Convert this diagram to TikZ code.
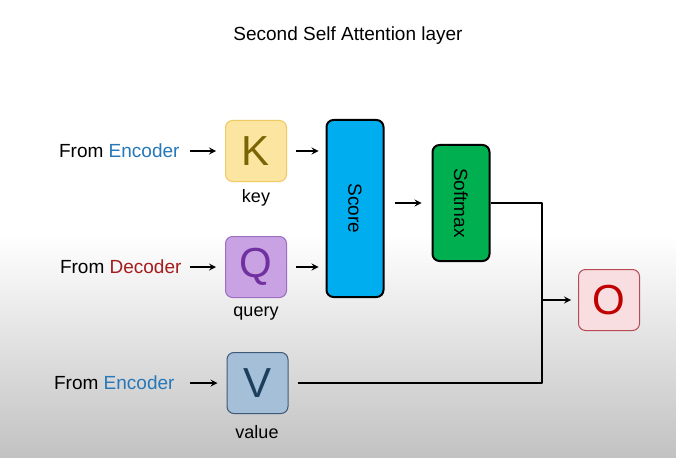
\documentclass[tikz,border=0pt]{standalone}
\usepackage{fontspec}
\setmainfont{Liberation Sans}
\definecolor{encblue}{HTML}{2678B8}
\definecolor{decred}{HTML}{A61C1C}
\definecolor{kfill}{HTML}{FCE5A0}
\definecolor{kline}{HTML}{EDCB62}
\definecolor{ktext}{HTML}{7A6405}
\definecolor{qfill}{HTML}{C8A2E2}
\definecolor{qline}{HTML}{9C6FC2}
\definecolor{qtext}{HTML}{7030A0}
\definecolor{vfill}{HTML}{A6BFD8}
\definecolor{vline}{HTML}{3E5A78}
\definecolor{vtext}{HTML}{1C3F5E}
\definecolor{ofill}{HTML}{F8DEE0}
\definecolor{oline}{HTML}{B84A55}
\definecolor{otext}{HTML}{C00000}
\definecolor{scorefill}{HTML}{00AEEF}
\definecolor{softfill}{HTML}{00B050}
\begin{document}
\begin{tikzpicture}[x=1pt,y=-1pt,line join=round,>=stealth,
	lbl/.style={font=\fontsize{19}{19}\selectfont,anchor=east},
	sub/.style={font=\fontsize{18}{18}\selectfont},
	letterbox/.style={rounded corners=7pt,line width=1pt,minimum width=61pt,minimum height=61pt,font=\fontsize{42}{42}\selectfont},
	bigbox/.style={rounded corners=7pt,draw=black,line width=2pt,minimum width=57pt,font=\fontsize{19}{19}\selectfont},
	arr/.style={->,line width=2pt}]
	% background
	\fill[white] (0,0) rectangle (676,235);
	\shade[top color=white,bottom color=black!24] (0,235) rectangle (676,457);
	\useasboundingbox (0,0) rectangle (676,457);
	\node[font=\fontsize{19}{19}\selectfont] (title) at (348,36) {Second Self Attention layer};
	% input boxes
	\node[letterbox,draw=kline,fill=kfill,text=ktext] (K) at (256,151) {K};
	\node[letterbox,draw=qline,fill=qfill,text=qtext] (Q) at (256,267) {Q};
	\node[letterbox,draw=vline,fill=vfill,text=vtext] (V) at (257.5,383) {V};
	\node[sub] (key) at (256,198) {key};
	\node[sub] (query) at (256,314) {query};
	\node[sub] (value) at (257,432) {value};
	\node[lbl] (fromK) at (183,151) {From \textcolor{encblue}{Encoder}};
	\node[lbl] (fromQ) at (185,267) {From \textcolor{decred}{Decoder}};
	\node[lbl] (fromV) at (178,383) {From \textcolor{encblue}{Encoder}};
	% score and softmax
	\node[bigbox,fill=scorefill,minimum height=177pt] (score) at (355,208.5) {};
	\node[rotate=-90,font=\fontsize{19}{19}\selectfont] (scoretxt) at (score.center) {Score};
	\node[bigbox,fill=softfill,minimum height=116pt] (soft) at (461,203) {};
	\node[rotate=-90,font=\fontsize{19}{19}\selectfont] (softtxt) at (soft.center) {Softmax};
	\node[letterbox,draw=oline,fill=ofill,text=otext] (O) at (609,300) {O};
	\coordinate (j) at (542,300);
	% arrows
	\draw[arr,shorten <=7pt,shorten >=9pt] (fromK.east) -- (fromK.east -| K.west);
	\draw[arr,shorten <=5pt,shorten >=9pt] (fromQ.east) -- (fromQ.east -| Q.west);
	\draw[arr,shorten <=12pt,shorten >=9pt] (fromV.east) -- (fromV.east -| V.west);
	\draw[arr,shorten <=9pt,shorten >=7pt] (K.east) -- (K.east -| score.west);
	\draw[arr,shorten <=9pt,shorten >=7pt] (Q.east) -- (Q.east -| score.west);
	\draw[arr,shorten <=10pt,shorten >=10pt] (score.east |- soft.center) -- (soft.west);
	\draw[line width=2pt] (soft.east) -| (j);
	\draw[line width=2pt,shorten <=9pt] (V.east) -| (j);
	\draw[arr,shorten >=7pt] (j) -- (O.west);
\end{tikzpicture}
\end{document}
